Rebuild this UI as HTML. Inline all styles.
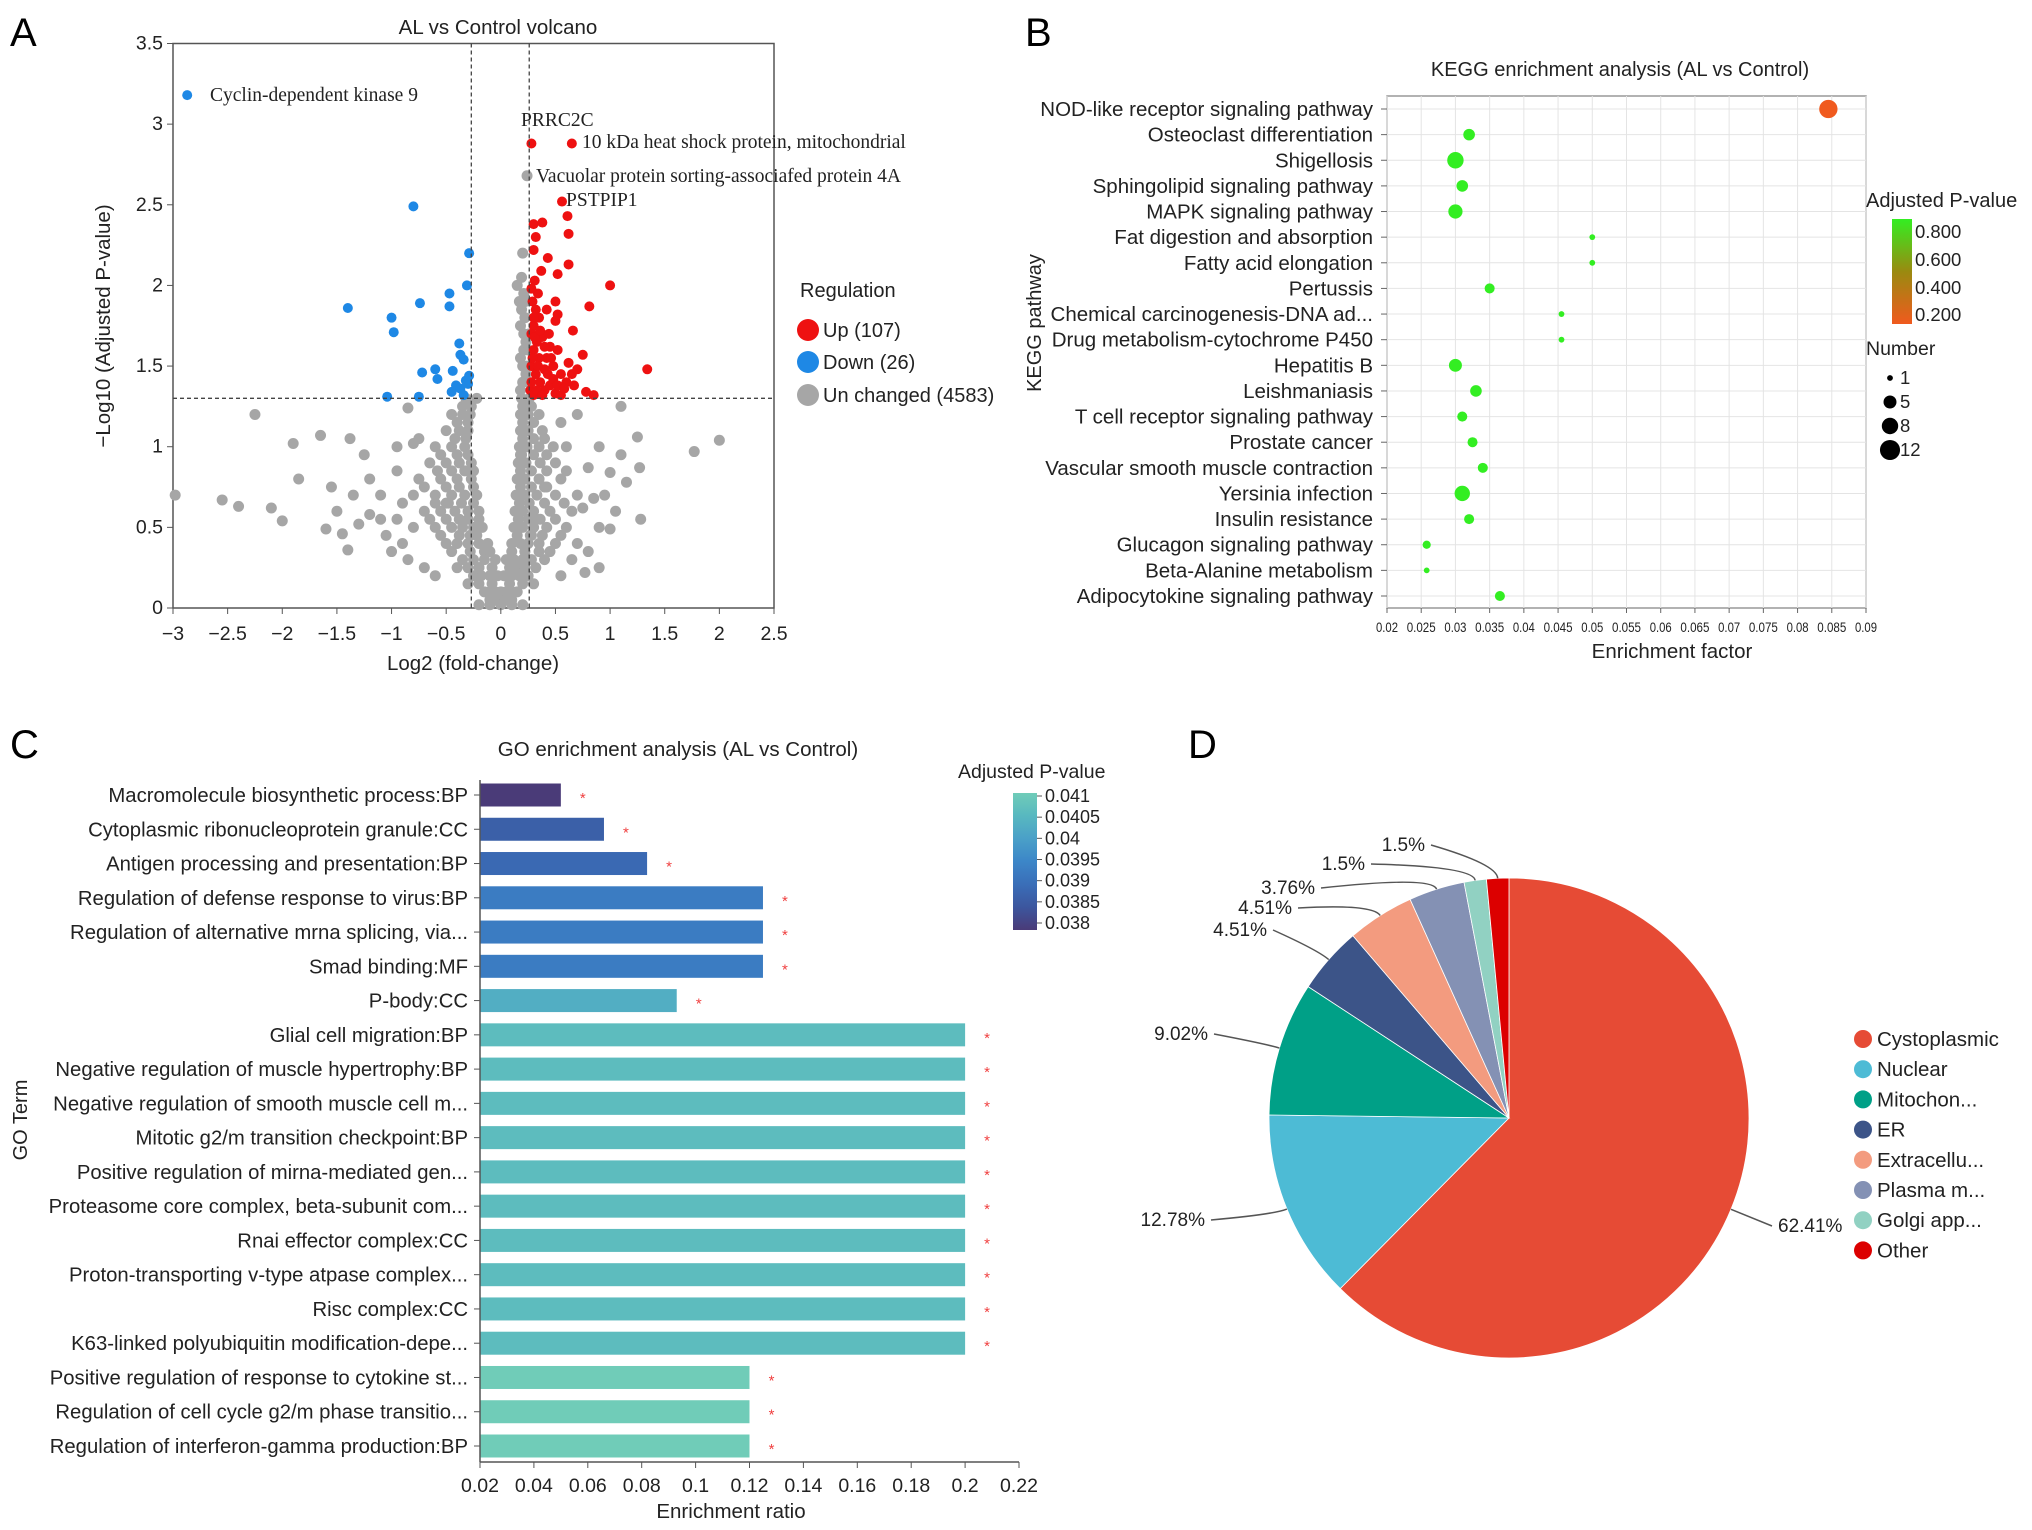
<!DOCTYPE html>
<html><head><meta charset="utf-8"><style>
html,body{margin:0;padding:0;background:#fff;}
svg{display:block;font-family:"Liberation Sans",sans-serif;}
</style></head><body>
<svg id="fig" width="2032" height="1530" viewBox="0 0 2032 1530" xmlns="http://www.w3.org/2000/svg">
<text x="10" y="46" font-size="40">A</text>
<text x="1025" y="46" font-size="40">B</text>
<text x="10" y="758" font-size="40">C</text>
<text x="1188" y="758" font-size="40">D</text>
</svg>
<script>
const NS='http://www.w3.org/2000/svg';
const svg=document.getElementById('fig');
function mk(tag,attrs,parent){const e=document.createElementNS(NS,tag);for(const k in attrs)e.setAttribute(k,attrs[k]);(parent||svg).appendChild(e);return e;}
function tx(x,y,s,size,anchor,extra){const e=mk('text',Object.assign({x:x,y:y,'font-size':size,'text-anchor':anchor||'start',fill:'#222'},extra||{}));e.textContent=s;return e;}

/* ---------- Panel A: volcano ---------- */
const upX=[0.28,0.65,0.56,0.30,0.38,0.61,0.62,0.32,0.30,0.43,0.62,0.37,0.52,0.31,1.0,0.81,1.34,0.85,0.78,0.67,0.65,0.75,0.66,0.5,0.5,0.52,0.29,0.32,0.35,0.3,0.28,0.33,0.38,0.45,0.42,0.48,0.55,0.6,0.35,0.3,0.28,0.32,0.36,0.4,0.45,0.5,0.55,0.27,0.3,0.33,0.38,0.43,0.48,0.52,0.58,0.28,0.34,0.4,0.46,0.52,0.29,0.31,0.36,0.4,0.44,0.3,0.34,0.28,0.42,0.62,0.7];
const upY=[2.88,2.88,2.52,2.38,2.39,2.43,2.32,2.30,2.22,2.17,2.13,2.09,2.07,2.03,2.0,1.87,1.48,1.32,1.34,1.38,1.45,1.57,1.72,1.78,1.9,1.82,1.90,1.85,1.80,1.75,1.70,1.65,1.68,1.62,1.55,1.5,1.45,1.4,1.55,1.6,1.5,1.45,1.4,1.35,1.38,1.33,1.32,1.35,1.32,1.35,1.32,1.45,1.42,1.38,1.36,1.4,1.5,1.48,1.55,1.6,1.55,1.68,1.72,1.62,1.7,1.8,1.95,1.98,1.85,1.52,1.48];
const downX=[-2.87,-0.80,-0.29,-0.31,-0.47,-0.47,-0.74,-1.40,-1.0,-0.98,-0.38,-0.37,-0.34,-0.72,-0.6,-0.44,-0.29,-0.58,-0.32,-0.41,-0.30,-0.45,-1.04,-0.75,-0.34,-0.37];
const downY=[3.18,2.49,2.20,2.0,1.95,1.87,1.89,1.86,1.80,1.71,1.64,1.57,1.54,1.46,1.48,1.47,1.44,1.42,1.41,1.38,1.39,1.34,1.31,1.31,1.32,1.36];
const grayX=[-0.1,-0.05,0,0.05,0.1,-0.15,-0.1,-0.05,0,0.05,0.1,0.15,-0.25,-0.18,-0.1,-0.03,0.03,0.1,0.17,0.25,-0.35,-0.25,-0.15,-0.05,0.05,0.12,0.2,0.28,0.4,-0.5,-0.4,-0.3,-0.2,-0.12,0.1,0.18,0.25,0.35,0.5,-0.6,-0.45,-0.35,-0.25,-0.17,0.12,0.2,0.3,0.42,0.6,-0.7,-0.55,-0.42,-0.3,-0.2,0.13,0.2,0.3,0.45,0.65,-0.8,-0.6,-0.45,-0.33,-0.22,0.14,0.22,0.33,0.5,0.7,-0.75,-0.55,-0.4,-0.27,0.15,0.22,0.35,0.55,-0.65,-0.5,-0.38,-0.27,0.16,0.23,0.36,0.5,-0.6,-0.45,-0.33,0.17,0.24,0.35,0.48,-0.5,-0.38,-0.3,0.18,0.25,0.38,-0.45,-0.35,-0.28,0.18,0.25,0.35,-0.32,-0.22,0.19,0.26,0.2,0.25,0.2,0.24,0.21,0.25,0.21,0.26,0.22,0.17,0.22,0.15,0.2,0.24,
-2.98,-2.55,-2.4,-2.25,-2.1,-2,-1.9,-1.85,-1.65,-1.6,-1.55,-1.5,-1.45,-1.4,-1.38,-1.35,-1.3,-1.2,-1.1,-1.05,-1.0,-0.95,-0.9,-0.85,-0.8,-0.75,-0.85,-0.7,2.0,1.77,1.27,1.25,1.1,1.15,1.0,1.0,0.9,0.85,0.8,0.77,0.7,0.65,0.6,0.7,0.55,1.28,0.75,0.9,
-0.08,0.08,-0.2,0.22,-0.28,0.28,-0.38,0.3,-0.5,0.4,-0.25,0.18,-0.15,0.14,
-0.2,-0.1,0,0.1,0.2,-0.3,-0.2,0.2,0.3,-0.4,-0.3,-0.2,-0.08,0.08,0.22,0.32,-0.45,-0.28,-0.1,0.1,0.22,0.35,0.45,-0.55,-0.38,-0.22,0.15,0.27,0.38,0.55,-0.65,-0.5,-0.3,-0.2,0.16,0.25,0.36,0.5,-0.6,-0.48,-0.36,-0.25,0.17,0.26,0.4,0.58,-0.7,-0.5,-0.38,-0.25,0.18,0.28,0.42,-0.58,-0.45,-0.33,0.18,0.28,0.42,-0.55,-0.4,-0.3,0.19,0.3,0.42,-0.42,-0.32,0.2,0.3,0.4,-0.4,-0.3,0.2,0.3,-0.35,-0.27,0.2,0.28,
0.18,0.23,0.18,0.23,0.18,0.19,0.21,0.19,
-1.2,-1.1,-0.95,-0.9,-0.8,-0.95,0.95,1.05,0.8,0.9,1.1,-1.25,-0.6,0.55,0.6];
const grayY=[0.05,0.05,0.05,0.05,0.05,0.1,0.1,0.1,0.1,0.1,0.1,0.1,0.2,0.2,0.2,0.2,0.2,0.2,0.2,0.2,0.3,0.3,0.3,0.3,0.3,0.3,0.3,0.3,0.3,0.4,0.4,0.4,0.4,0.4,0.4,0.4,0.4,0.4,0.4,0.5,0.5,0.5,0.5,0.5,0.5,0.5,0.5,0.5,0.5,0.6,0.6,0.6,0.6,0.6,0.6,0.6,0.6,0.6,0.6,0.7,0.7,0.7,0.7,0.7,0.7,0.7,0.7,0.7,0.7,0.8,0.8,0.8,0.8,0.8,0.8,0.8,0.8,0.9,0.9,0.9,0.9,0.9,0.9,0.9,0.9,1.0,1.0,1.0,1.0,1.0,1.0,1.0,1.1,1.1,1.1,1.1,1.1,1.1,1.2,1.2,1.2,1.2,1.2,1.2,1.3,1.3,1.3,1.3,1.4,1.4,1.5,1.5,1.6,1.6,1.7,1.7,1.8,1.9,1.9,2.0,2.2,2.68,
0.7,0.67,0.63,1.2,0.62,0.54,1.02,0.8,1.07,0.49,0.75,0.6,0.46,0.36,1.05,0.7,0.52,0.58,0.55,0.45,0.35,1.0,0.65,0.3,1.02,1.05,1.24,0.25,1.04,0.97,0.87,1.06,1.25,0.78,0.84,0.49,0.5,0.68,0.87,0.22,0.4,0.3,1.0,1.2,1.15,0.55,0.62,1.0,
0.15,0.15,0.25,0.35,0.45,0.45,0.55,0.55,0.65,0.75,0.85,0.95,0.35,0.25,
0.02,0.02,0.02,0.02,0.02,0.15,0.15,0.15,0.15,0.25,0.25,0.25,0.25,0.25,0.25,0.25,0.35,0.35,0.35,0.35,0.35,0.35,0.35,0.45,0.45,0.45,0.45,0.45,0.45,0.45,0.55,0.55,0.55,0.55,0.55,0.55,0.55,0.55,0.65,0.65,0.65,0.65,0.65,0.65,0.65,0.65,0.75,0.75,0.75,0.75,0.75,0.75,0.75,0.85,0.85,0.85,0.85,0.85,0.85,0.95,0.95,0.95,0.95,0.95,0.95,1.05,1.05,1.05,1.05,1.05,1.15,1.15,1.15,1.15,1.25,1.25,1.25,1.25,
1.35,1.45,1.55,1.65,1.75,1.85,1.95,2.05,
0.8,0.7,0.55,0.4,0.5,0.85,0.7,0.6,0.35,0.25,0.95,0.95,0.2,0.2,0.85];
const volXTicks=[-3,-2.5,-2,-1.5,-1,-0.5,0,0.5,1,1.5,2,2.5];
const volYTicks=[0,0.5,1,1.5,2,2.5,3,3.5];
const volLabels=['Cyclin-dependent kinase 9','PRRC2C','10 kDa heat shock protein, mitochondrial','Vacuolar protein sorting-associafed protein 4A','PSTPIP1'];
const A={l:173,r:774,t:43.5,b:608,x0:-3,x1:2.5,y0:0,y1:3.5};
function xA(v){return A.l+(v-A.x0)/(A.x1-A.x0)*(A.r-A.l);}
function yA(v){return A.b-(v-A.y0)/(A.y1-A.y0)*(A.b-A.t);}
let e;
e=mk('rect',{x:A.l,y:A.t,width:A.r-A.l,height:A.b-A.t,fill:'none',stroke:'#555','stroke-width':1.5});


for(let i=0;i<grayX.length;i++){const c=mk('circle',{cx:xA(grayX[i]),cy:yA(grayY[i]),r:5.5,fill:'#a6a6a6'});

}
for(let i=0;i<downX.length;i++){const c=mk('circle',{cx:xA(downX[i]),cy:yA(downY[i]),r:5,fill:'#1e88e5'});

}
for(let i=0;i<upX.length;i++){const c=mk('circle',{cx:xA(upX[i]),cy:yA(upY[i]),r:5,fill:'#ee1111'});

}
[-0.27,0.26].forEach(v=>{const l=mk('line',{x1:xA(v),x2:xA(v),y1:A.t,y2:A.b,stroke:'#444','stroke-dasharray':'4,3','stroke-width':1.3});

});
e=mk('line',{x1:A.l,x2:A.r,y1:yA(1.3),y2:yA(1.3),stroke:'#444','stroke-dasharray':'4,3','stroke-width':1.3});


volXTicks.forEach(v=>{mk('line',{x1:xA(v),x2:xA(v),y1:A.b,y2:A.b+6,stroke:'#555'});const t=tx(xA(v),A.b+32,String(v).replace('-','\u2212'),19.5,'middle');

});
volYTicks.forEach(v=>{mk('line',{x1:A.l-6,x2:A.l,y1:yA(v),y2:yA(v),stroke:'#555'});const t=tx(A.l-10,yA(v)+6,String(v),19.5,'end');

});
e=tx(498,34,'AL vs Control volcano',20.5,'middle');


e=tx(473,670,'Log2 (fold-change)',20.5,'middle');


e=tx(0,0,'\u2212Log10 (Adjusted P-value)',20.5,'middle',{transform:'translate(110,326) rotate(-90)'});


const lblPos=[[210,101],[521,126],[582,148],[536,182],[566,206]];
volLabels.forEach((s,i)=>{const t=tx(lblPos[i][0],lblPos[i][1],s,19.5,'start',{'font-family':'"Liberation Serif",serif'});

});
e=tx(800,297,'Regulation',20,'start');


[['Up (107)','#ee1111',330],['Down (26)','#1e88e5',362],['Un changed (4583)','#a6a6a6',395]].forEach(d=>{
const c=mk('circle',{cx:808,cy:d[2],r:11,fill:d[1]});


const t=tx(823,d[2]+7,d[0],20,'start');

});

/* ---------- Panel B: KEGG bubble ---------- */
const keggTerms=['NOD-like receptor signaling pathway','Osteoclast differentiation','Shigellosis','Sphingolipid signaling pathway','MAPK signaling pathway','Fat digestion and absorption','Fatty acid elongation','Pertussis','Chemical carcinogenesis-DNA ad...','Drug metabolism-cytochrome P450','Hepatitis B','Leishmaniasis','T cell receptor signaling pathway','Prostate cancer','Vascular smooth muscle contraction','Yersinia infection','Insulin resistance','Glucagon signaling pathway','Beta-Alanine metabolism','Adipocytokine signaling pathway'];
const keggFactor=[0.0845,0.032,0.030,0.031,0.030,0.050,0.050,0.035,0.0455,0.0455,0.030,0.033,0.031,0.0325,0.034,0.031,0.032,0.0258,0.0258,0.0365];
const keggPadj=[0.15,0.85,0.85,0.85,0.85,0.85,0.85,0.85,0.85,0.85,0.85,0.85,0.85,0.85,0.85,0.85,0.85,0.85,0.85,0.85];
const keggCount=[10,4,8,4,6,1,1,3,1,1,5,4,3,3,3,7,3,2,1,3];
const keggXTicks=['0.02','0.025','0.03','0.035','0.04','0.045','0.05','0.055','0.06','0.065','0.07','0.075','0.08','0.085','0.09'];
const B={l:1387,r:1866,t:96,b:608,x0:0.02,x1:0.09};
function xB(v){return B.l+(v-B.x0)/(B.x1-B.x0)*(B.r-B.l);}
function yB(i){return 109+i*(596-109)/(keggTerms.length-1);}
function rB(n){return 2.9*Math.sqrt(n);}
function colB(p){const t=Math.max(0,Math.min(1,(p-0.15)/(0.85-0.15)));const r=Math.round(240+(51-240)*t),g=Math.round(90+(238-90)*t),b=Math.round(30+(34-30)*t);return 'rgb('+r+','+g+','+b+')';}
e=mk('rect',{x:B.l,y:B.t,width:B.r-B.l,height:B.b-B.t,fill:'#fff',stroke:'#999','stroke-width':1.5});


keggXTicks.forEach(s=>{const v=parseFloat(s);const x=xB(v);
const g=mk('line',{x1:x,x2:x,y1:B.t,y2:B.b,stroke:'#e4e4e4'});


mk('line',{x1:x,x2:x,y1:B.b,y2:B.b+5,stroke:'#666'});
const t=tx(x,B.b+24,s,14,'middle',{textLength:s.length>4?29:22,lengthAdjust:'spacingAndGlyphs'});

});
keggTerms.forEach((s,i)=>{const y=yB(i);
const g=mk('line',{x1:B.l,x2:B.r,y1:y,y2:y,stroke:'#e4e4e4'});


mk('line',{x1:B.l-6,x2:B.l,y1:y,y2:y,stroke:'#666'});
const t=tx(B.l-14,y+7,s,20.5,'end');

});
keggTerms.forEach((s,i)=>{const c=mk('circle',{cx:xB(keggFactor[i]),cy:yB(i),r:rB(keggCount[i]),fill:colB(keggPadj[i])});

});
e=tx(1620,76,'KEGG enrichment analysis (AL vs Control)',20,'middle');


e=tx(1672,658,'Enrichment factor',20.5,'middle');


e=tx(0,0,'KEGG pathway',20,'middle',{transform:'translate(1041,323) rotate(-90)'});


const defs=mk('defs',{});
const lg=mk('linearGradient',{id:'gB',x1:0,y1:1,x2:0,y2:0},defs);
mk('stop',{offset:0,'stop-color':'#f05a1e'},lg);mk('stop',{offset:0.5,'stop-color':'#9a8a10'},lg);mk('stop',{offset:1,'stop-color':'#33ee22'},lg);
e=tx(1866,207,'Adjusted P-value',20,'start');


e=mk('rect',{x:1892,y:219,width:20,height:105,fill:'url(#gB)'});


[['0.800',232],['0.600',260],['0.400',288],['0.200',315]].forEach(d=>{const t=tx(1915,d[1]+6,d[0],18.5,'start');

});
e=tx(1866,355,'Number',19.5,'start');


[[1,378],[5,402],[8,426],[12,450]].forEach(d=>{const c=mk('circle',{cx:1890,cy:d[1],r:rB(d[0]),fill:'#000'});


const t=tx(1900,d[1]+6,String(d[0]),18.5,'start');

});

/* ---------- Panel C: GO bars ---------- */
const goTerms=['Macromolecule biosynthetic process:BP','Cytoplasmic ribonucleoprotein granule:CC','Antigen processing and presentation:BP','Regulation of defense response to virus:BP','Regulation of alternative mrna splicing, via...','Smad binding:MF','P-body:CC','Glial cell migration:BP','Negative regulation of muscle hypertrophy:BP','Negative regulation of smooth muscle cell m...','Mitotic g2/m transition checkpoint:BP','Positive regulation of mirna-mediated gen...','Proteasome core complex, beta-subunit com...','Rnai effector complex:CC','Proton-transporting v-type atpase complex...','Risc complex:CC','K63-linked polyubiquitin modification-depe...','Positive regulation of response to cytokine st...','Regulation of cell cycle g2/m phase transitio...','Regulation of interferon-gamma production:BP'];
const goRatio=[0.05,0.066,0.082,0.125,0.125,0.125,0.093,0.2,0.2,0.2,0.2,0.2,0.2,0.2,0.2,0.2,0.2,0.12,0.12,0.12];
const goPadj=[0.038,0.0387,0.0389,0.0393,0.0393,0.0393,0.0403,0.0406,0.0406,0.0406,0.0406,0.0406,0.0406,0.0406,0.0406,0.0406,0.0406,0.041,0.041,0.041];
const goXTicks=[0.02,0.04,0.06,0.08,0.1,0.12,0.14,0.16,0.18,0.2,0.22];
const goLegendTicks=['0.041','0.0405','0.04','0.0395','0.039','0.0385','0.038'];
const C={l:480,axisY:1462,x0:0.02,x1:0.22,r:1019};
function xC(v){return C.l+(v-C.x0)/(C.x1-C.x0)*(C.r-C.l);}
function yC(i){return 795+i*(1446-795)/(goTerms.length-1);}
const goStops=[[0.038,[74,59,120]],[0.0385,[60,86,158]],[0.039,[58,110,184]],[0.0395,[60,134,200]],[0.04,[74,160,200]],[0.0405,[88,184,192]],[0.041,[112,204,184]]];
function colC(p){for(let k=0;k<goStops.length-1;k++){const a=goStops[k],b=goStops[k+1];if(p<=b[0]||k==goStops.length-2){const t=Math.max(0,Math.min(1,(p-a[0])/(b[0]-a[0])));return 'rgb('+a[1].map((c,j)=>Math.round(c+(b[1][j]-c)*t)).join(',')+')';}}}
goTerms.forEach((s,i)=>{const y=yC(i);
const b=mk('rect',{x:C.l,y:y-11.5,width:xC(goRatio[i])-C.l,height:23,fill:colC(goPadj[i])});


const st=tx(xC(goRatio[i])+22,y+8,'*',15,'middle',{fill:'#f04040'});


mk('line',{x1:C.l-6,x2:C.l,y1:y,y2:y,stroke:'#555'});
const t=tx(C.l-12,y+7,s,20.3,'end');

});
e=mk('line',{x1:C.l,x2:C.l,y1:780,y2:C.axisY,stroke:'#555','stroke-width':1.5});


e=mk('line',{x1:C.l,x2:C.r,y1:C.axisY,y2:C.axisY,stroke:'#555','stroke-width':1.5});


goXTicks.forEach(v=>{mk('line',{x1:xC(v),x2:xC(v),y1:C.axisY,y2:C.axisY+6,stroke:'#555'});
const t=tx(xC(v),C.axisY+30,String(v),19.5,'middle');

});
e=tx(678,756,'GO enrichment analysis (AL vs Control)',20.5,'middle');


e=tx(731,1518,'Enrichment ratio',20.5,'middle');


e=tx(0,0,'GO Term',20,'middle',{transform:'translate(27,1120) rotate(-90)'});


const lg2=mk('linearGradient',{id:'gC',x1:0,y1:1,x2:0,y2:0},defs);
goStops.forEach((s,k)=>mk('stop',{offset:k/(goStops.length-1),'stop-color':'rgb('+s[1].join(',')+')'},lg2));
e=tx(958,778,'Adjusted P-value',19.5,'start');


e=mk('rect',{x:1013,y:793,width:24,height:137,fill:'url(#gC)'});


goLegendTicks.forEach((s,k)=>{const y=796+k*(923-796)/(goLegendTicks.length-1);
mk('line',{x1:1037,x2:1042,y1:y,y2:y,stroke:'#555'});
const t=tx(1045,y+6,s,18,'start');

});

/* ---------- Panel D: pie ---------- */
const pieNames=['Cystoplasmic','Nuclear','Mitochon...','ER','Extracellu...','Plasma m...','Golgi app...','Other'];
const pieValues=[62.41,12.78,9.02,4.51,4.51,3.76,1.5,1.5];
const pieColors=['#e64b35','#4dbbd5','#00a087','#3c5488','#f39b7f','#8491b4','#91d1c2','#dc0000'];
const P={cx:1509,cy:1118,r:240};
const total=pieValues.reduce((a,b)=>a+b,0);
function pt(a,r){return [P.cx+r*Math.sin(a),P.cy-r*Math.cos(a)];}
const labelAt=[[1778,1232,'start'],[1205,1226,'end'],[1208,1040,'end'],[1267,936,'end'],[1292,914,'end'],[1315,894,'end'],[1365,870,'end'],[1425,851,'end']];
let ang=0;
pieValues.forEach((v,i)=>{const a0=ang,a1=ang+v/total*2*Math.PI;ang=a1;
const p0=pt(a0,P.r),p1=pt(a1,P.r);const large=(a1-a0)>Math.PI?1:0;
const s=mk('path',{d:'M'+P.cx+','+P.cy+' L'+p0[0]+','+p0[1]+' A'+P.r+','+P.r+' 0 '+large+' 1 '+p1[0]+','+p1[1]+' Z',fill:pieColors[i],stroke:'#fff','stroke-width':0.8});


const am=(a0+a1)/2;const e0=pt(am,P.r);const e1=pt(am,P.r+14);const L=labelAt[i];
const lx=L[2]=='start'?L[0]-6:L[0]+6;
const ld=mk('path',{d:'M'+e0[0]+','+e0[1]+' Q'+e1[0]+','+e1[1]+' '+lx+','+(L[1]-6),fill:'none',stroke:'#555','stroke-width':1.5});


const t=tx(L[0],L[1],v+'%',19,L[2]);


const ly=1039+i*30.2;
const c=mk('circle',{cx:1863,cy:ly,r:9,fill:pieColors[i]});


const lt=tx(1877,ly+7,pieNames[i],20.5,'start');

});
</script>
</body></html>
